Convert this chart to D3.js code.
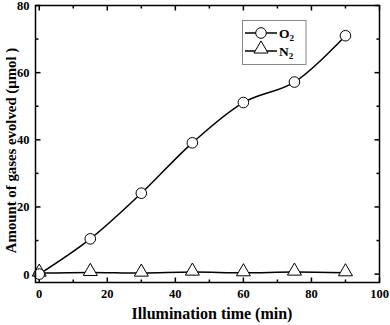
<!DOCTYPE html>
<html><head><meta charset="utf-8">
<script src="https://cdn.jsdelivr.net/npm/d3@7"></script>
<style>body{margin:0;background:#fff}svg{display:block}text{font-family:"Liberation Serif","Times New Roman",serif;font-weight:bold}</style>
</head><body><svg id="c" width="390" height="325"></svg>
<script>
const times = [0, 15, 30, 45, 60, 75, 90];
const o2 = [0, 10.5, 24.1, 39.1, 51.1, 57.2, 71.0];
const n2 = [0.3, 0.5, 0.3, 0.6, 0.4, 0.6, 0.4];
const xTicks = [0, 20, 40, 60, 80, 100];
const yTicks = [0, 20, 40, 60, 80];
const seriesNames = ["O", "N"];

const svg = d3.select("#c");
const L = 35.5, R = 379.5, T = 5.5, B = 282.5;
const x = d3.scaleLinear().domain([-1.1, 100]).range([L, R]);
const y = d3.scaleLinear().domain([-2.5, 80]).range([B, T]);

const g = svg.append("g");
const xMinor = d3.range(10, 100, 20);
const yMinor = d3.range(10, 80, 20);
function ticks(sel, vals, len, axis, side) {
  vals.forEach(v => {
    if (axis === "x") {
      const px = x(v);
      if (side === "b") sel.append("line").attr("x1", px).attr("x2", px).attr("y1", B).attr("y2", B - len);
      else sel.append("line").attr("x1", px).attr("x2", px).attr("y1", T).attr("y2", T + len);
    } else {
      const py = y(v);
      if (side === "l") sel.append("line").attr("y1", py).attr("y2", py).attr("x1", L).attr("x2", L + len);
      else sel.append("line").attr("y1", py).attr("y2", py).attr("x1", R).attr("x2", R - len);
    }
  });
}
const tg = g.append("g").attr("stroke", "#000").attr("stroke-width", 1.5);
ticks(tg, xTicks, 5, "x", "b"); ticks(tg, xTicks, 5, "x", "t");
ticks(tg, yTicks, 5, "y", "l"); ticks(tg, yTicks, 5, "y", "r");
ticks(tg, xMinor, 3, "x", "b"); ticks(tg, xMinor, 3, "x", "t");
ticks(tg, yMinor, 3, "y", "l"); ticks(tg, yMinor, 3, "y", "r");

g.selectAll(".xl").data(xTicks).enter().append("text")
  .attr("x", d => x(d)).attr("y", 297.5).attr("text-anchor", "middle")
  .attr("font-size", 12.5).text(d => d);
g.selectAll(".yl").data(yTicks).enter().append("text")
  .attr("x", 29.5).attr("y", d => y(d) + 4.5).attr("text-anchor", "end")
  .attr("font-size", 12.5).text(d => d);

const line = d3.line().x(d => x(d[0])).y(d => y(d[1])).curve(d3.curveCatmullRom.alpha(0.5));
const o2pts = times.map((t, i) => [t, o2[i]]);
const n2pts = times.map((t, i) => [t, n2[i]]);
g.append("path").attr("d", line(n2pts)).attr("fill", "none").attr("stroke", "#000").attr("stroke-width", 1.5);
g.append("path").attr("d", line(o2pts)).attr("fill", "none").attr("stroke", "#000").attr("stroke-width", 1.5);

const tri = d3.symbol().type(d3.symbolTriangle).size(85);
g.selectAll(".tri").data(n2pts).enter().append("path")
  .attr("d", tri).attr("transform", d => `translate(${x(d[0])},${y(d[1]) - 1})`)
  .attr("fill", "#fff").attr("stroke", "#000").attr("stroke-width", 1);
g.selectAll(".circ").data(o2pts).enter().append("circle")
  .attr("cx", d => x(d[0])).attr("cy", d => y(d[1])).attr("r", 5.3)
  .attr("fill", "#fff").attr("stroke", "#000").attr("stroke-width", 1);

g.append("rect").attr("x", L).attr("y", T).attr("width", R - L).attr("height", B - T)
  .attr("fill", "none").attr("stroke", "#000").attr("stroke-width", 1.5);

const lg = g.append("g");
lg.append("rect").attr("x", 242.5).attr("y", 20.5).attr("width", 63.5).attr("height", 44)
  .attr("fill", "#fff").attr("stroke", "#888").attr("stroke-width", 1);
[0, 1].forEach(i => {
  const ly = 33 + i * 18;
  lg.append("line").attr("x1", 245).attr("x2", 277).attr("y1", ly).attr("y2", ly)
    .attr("stroke", "#000").attr("stroke-width", 1.5);
  if (i === 0) lg.append("circle").attr("cx", 261).attr("cy", ly).attr("r", 5.3)
    .attr("fill", "#fff").attr("stroke", "#000");
  else lg.append("path").attr("d", tri).attr("transform", `translate(261,${ly - 2})`)
    .attr("fill", "#fff").attr("stroke", "#000");
  const t = lg.append("text").attr("x", 279).attr("y", ly + 4.5).attr("font-size", 13.5);
  t.append("tspan").text(seriesNames[i]);
  t.append("tspan").attr("font-size", 9).attr("dy", 3).text("2");
});

g.append("text").attr("x", 212).attr("y", 319).attr("text-anchor", "middle")
  .attr("font-size", 16).text("Illumination time (min)");
g.append("text").attr("transform", "translate(16,150.5) rotate(-90)").attr("text-anchor", "middle")
  .attr("font-size", 14.8).text("Amount of gases evolved (μmol )");
</script></body></html>
